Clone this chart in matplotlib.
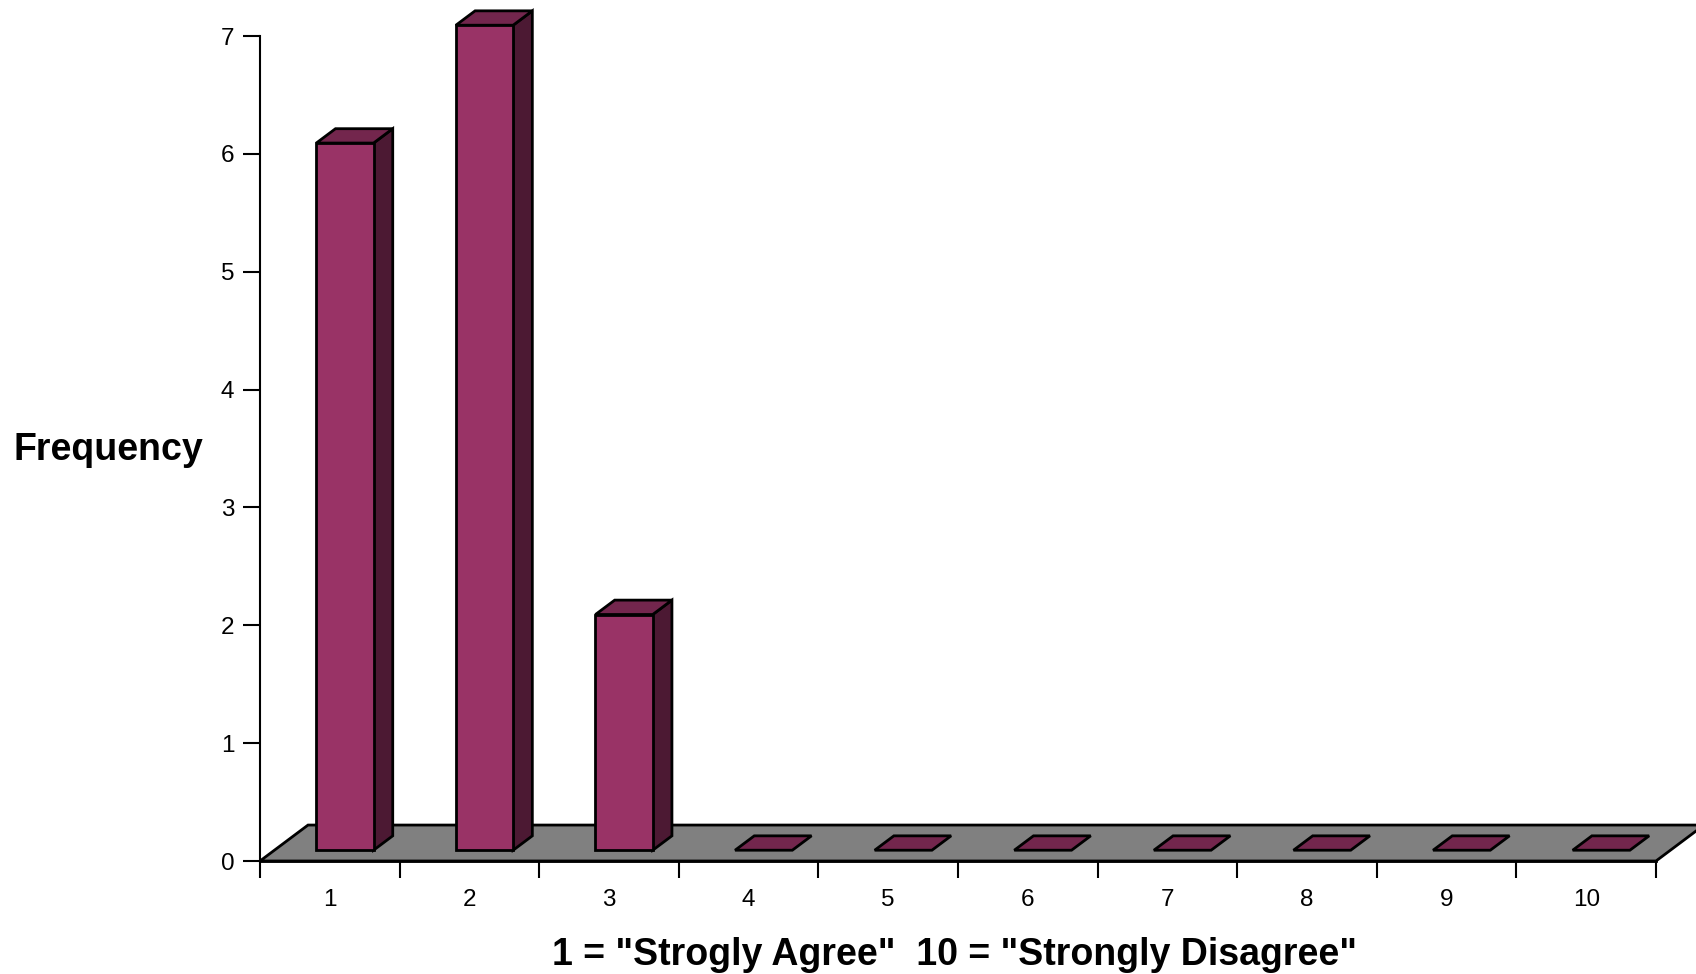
import matplotlib.pyplot as plt
from matplotlib.patches import Polygon

plt.rcParams['font.family'] = ['Liberation Sans', 'DejaVu Sans']

# data
categories = ['1', '2', '3', '4', '5', '6', '7', '8', '9', '10']
frequency = [6, 7, 2, 0, 0, 0, 0, 0, 0, 0]

front_col = '#993366'
top_col = '#73264D'
side_col = '#4C1933'
floor_col = '#808080'

# depth of the fake 3d floor, in data units
dx, dy = 0.344, 0.305
d0, d1 = 0.3, 0.7          # bar sits between these depth fractions
x0, x1 = 0.30, 0.71        # bar left/right inside a category, at depth 0

fig = plt.figure(figsize=(16.96, 9.74), dpi=100)
ax = fig.add_axes([260 / 1696, 113 / 974, 1396 / 1696, 825 / 974])
ax.set_xlim(0, len(categories))
ax.set_ylim(0, 7)

def poly(pts, color, z):
    p = Polygon(pts, closed=True, facecolor=color, edgecolor='black',
                linewidth=2, joinstyle='miter', clip_on=False, zorder=z)
    ax.add_patch(p)

n = len(categories)
poly([(0, 0), (n, 0), (n + dx, dy), (dx, dy)], floor_col, 1)

for i, v in enumerate(frequency):
    fx0 = i + x0 + d0 * dx
    fx1 = i + x1 + d0 * dx
    fy = d0 * dy
    ox = (d1 - d0) * dx
    oy = (d1 - d0) * dy
    if v > 0:
        poly([(fx1, fy), (fx1 + ox, fy + oy), (fx1 + ox, fy + oy + v), (fx1, fy + v)], side_col, 3)
        poly([(fx0, fy + v), (fx1, fy + v), (fx1 + ox, fy + oy + v), (fx0 + ox, fy + oy + v)], top_col, 3)
        poly([(fx0, fy), (fx1, fy), (fx1, fy + v), (fx0, fy + v)], front_col, 4)
    else:
        poly([(fx0, fy), (fx1, fy), (fx1 + ox, fy + oy), (fx0 + ox, fy + oy)], top_col, 3)

for s in ['top', 'right']:
    ax.spines[s].set_visible(False)
ax.spines['left'].set_linewidth(1.5)
ax.spines['bottom'].set_linewidth(2)
ax.spines['bottom'].set_zorder(5)

ax.set_yticks(range(0, 8))
ax.set_xticks(range(0, n + 1))
ax.set_xticklabels([])
ax.set_xticks([i + 0.5 for i in range(n)], minor=True)
ax.set_xticklabels(categories, minor=True)
ax.tick_params(axis='x', which='major', direction='out', length=12, width=1.5)
ax.tick_params(axis='x', which='minor', length=0, pad=20.5, labelsize=17.5)
ax.tick_params(axis='y', direction='out', length=12, width=1.5, pad=6.5, labelsize=17.5)

fig.text(13 / 1696, 1 - 460 / 974, 'Frequency', fontsize=27, fontweight='bold',
         ha='left', va='baseline')
fig.text(954 / 1696, 1 - 965 / 974, '1 = "Strogly Agree"  10 = "Strongly Disagree"',
         fontsize=27, fontweight='bold', ha='center', va='baseline')

fig.savefig('out.png', dpi=100)
